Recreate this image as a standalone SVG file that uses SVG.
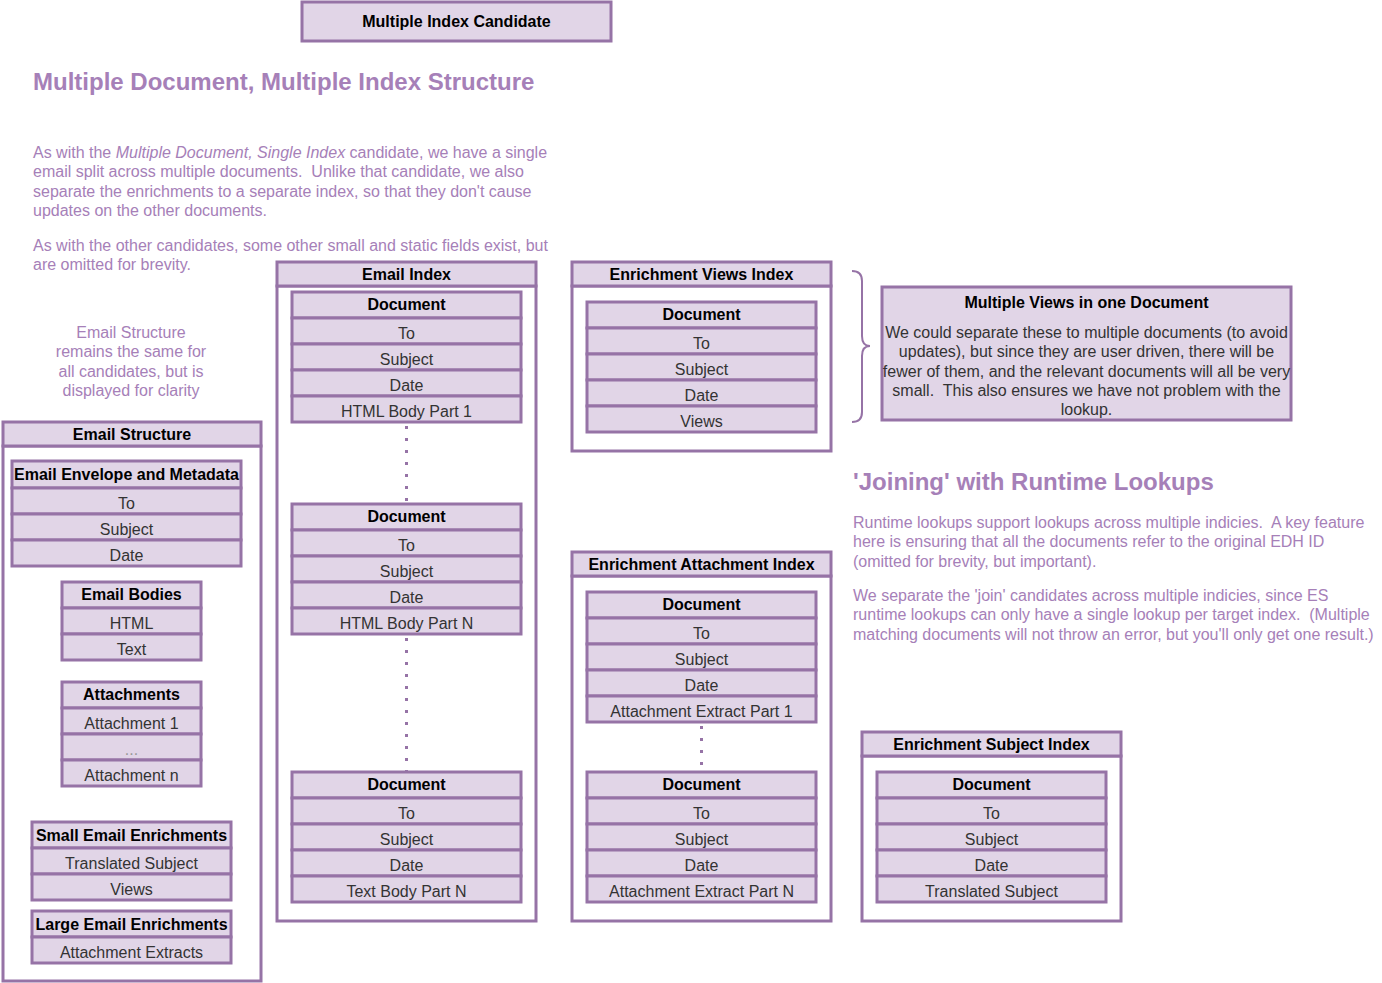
<svg xmlns="http://www.w3.org/2000/svg" width="1382" height="983" viewBox="0 0 1382 983">
<style>
text{font-family:"Liberation Sans",Arial,sans-serif;font-size:16px;white-space:pre}
.b{fill:#e1d5e7;stroke:#9673a6;stroke-width:3}
.w{fill:#ffffff;stroke:#9673a6;stroke-width:3}
.h{font-weight:bold;fill:#000;text-anchor:middle}
.r{fill:#333;text-anchor:middle}
.p{fill:#a680b8}
.t{fill:#a680b8;font-weight:bold;font-size:24px}
.dot{stroke:#9673a6;stroke-width:3;stroke-dasharray:3 9;fill:none}
</style>
<rect width="1382" height="983" fill="#fff"/>

<g id="title-box">
<rect class="b" x="302" y="2" width="309" height="39"/>
<text class="h" x="456.5" y="27">Multiple Index Candidate</text>
</g>

<g id="intro">
<text class="t" x="33" y="90">Multiple Document, Multiple Index Structure</text>
<text class="p" x="33" y="158">As with the <tspan font-style="italic">Multiple Document, Single Index</tspan> candidate, we have a single</text>
<text class="p" x="33" y="177.3" xml:space="preserve">email split across multiple documents.  Unlike that candidate, we also</text>
<text class="p" x="33" y="196.6">separate the enrichments to a separate index, so that they don't cause</text>
<text class="p" x="33" y="216">updates on the other documents.</text>
<text class="p" x="33" y="251">As with the other candidates, some other small and static fields exist, but</text>
<text class="p" x="33" y="270.3">are omitted for brevity.</text>
</g>

<g id="email-structure-note">
<text class="p" text-anchor="middle" x="131" y="338">Email Structure</text>
<text class="p" text-anchor="middle" x="131" y="357.3">remains the same for</text>
<text class="p" text-anchor="middle" x="131" y="376.6">all candidates, but is</text>
<text class="p" text-anchor="middle" x="131" y="396">displayed for clarity</text>
</g>

<g id="email-structure">
<rect class="w" x="3" y="446" width="258" height="535"/>
<rect class="b" x="3" y="422" width="258" height="24"/>
<text class="h" x="132" y="440">Email Structure</text>
<rect class="b" x="12" y="461" width="229" height="27"/>
<rect class="b" x="12" y="488" width="229" height="26"/>
<rect class="b" x="12" y="514" width="229" height="26"/>
<rect class="b" x="12" y="540" width="229" height="26"/>
<text class="h" x="126.5" y="480">Email Envelope and Metadata</text>
<text class="r" x="126.5" y="509">To</text>
<text class="r" x="126.5" y="535">Subject</text>
<text class="r" x="126.5" y="561">Date</text>

<rect class="b" x="62" y="582" width="139" height="26"/>
<rect class="b" x="62" y="608" width="139" height="26"/>
<rect class="b" x="62" y="634" width="139" height="26"/>
<text class="h" x="131.5" y="600">Email Bodies</text>
<text class="r" x="131.5" y="629">HTML</text>
<text class="r" x="131.5" y="655">Text</text>

<rect class="b" x="62" y="682" width="139" height="26"/>
<rect class="b" x="62" y="708" width="139" height="26"/>
<rect class="b" x="62" y="734" width="139" height="26"/>
<rect class="b" x="62" y="760" width="139" height="26"/>
<text class="h" x="131.5" y="700">Attachments</text>
<text class="r" x="131.5" y="729">Attachment 1</text>
<text class="r" x="131.5" y="755" style="fill:#999">...</text>
<text class="r" x="131.5" y="781">Attachment n</text>

<rect class="b" x="32" y="822" width="199" height="26"/>
<rect class="b" x="32" y="848" width="199" height="26"/>
<rect class="b" x="32" y="874" width="199" height="26"/>
<text class="h" x="131.5" y="841">Small Email Enrichments</text>
<text class="r" x="131.5" y="869">Translated Subject</text>
<text class="r" x="131.5" y="895">Views</text>

<rect class="b" x="32" y="911" width="199" height="26"/>
<rect class="b" x="32" y="937" width="199" height="26"/>
<text class="h" x="131.5" y="930">Large Email Enrichments</text>
<text class="r" x="131.5" y="958">Attachment Extracts</text>
</g>

<g id="email-index">
<rect class="w" x="277" y="286" width="259" height="635"/>
<rect class="b" x="277" y="262" width="259" height="24"/>
<text class="h" x="406.5" y="280">Email Index</text>
</g>

<g id="email-doc-1">
<rect class="b" x="292" y="292" width="229" height="26"/>
<rect class="b" x="292" y="318" width="229" height="26"/>
<rect class="b" x="292" y="344" width="229" height="26"/>
<rect class="b" x="292" y="370" width="229" height="26"/>
<rect class="b" x="292" y="396" width="229" height="26"/>
<text class="h" x="406.5" y="310">Document</text>
<text class="r" x="406.5" y="339">To</text>
<text class="r" x="406.5" y="365">Subject</text>
<text class="r" x="406.5" y="391">Date</text>
<text class="r" x="406.5" y="417">HTML Body Part 1</text>
</g>

<g id="email-doc-2">
<rect class="b" x="292" y="504" width="229" height="26"/>
<rect class="b" x="292" y="530" width="229" height="26"/>
<rect class="b" x="292" y="556" width="229" height="26"/>
<rect class="b" x="292" y="582" width="229" height="26"/>
<rect class="b" x="292" y="608" width="229" height="26"/>
<text class="h" x="406.5" y="522">Document</text>
<text class="r" x="406.5" y="551">To</text>
<text class="r" x="406.5" y="577">Subject</text>
<text class="r" x="406.5" y="603">Date</text>
<text class="r" x="406.5" y="629">HTML Body Part N</text>
</g>

<g id="email-doc-3">
<rect class="b" x="292" y="772" width="229" height="26"/>
<rect class="b" x="292" y="798" width="229" height="26"/>
<rect class="b" x="292" y="824" width="229" height="26"/>
<rect class="b" x="292" y="850" width="229" height="26"/>
<rect class="b" x="292" y="876" width="229" height="26"/>
<text class="h" x="406.5" y="790">Document</text>
<text class="r" x="406.5" y="819">To</text>
<text class="r" x="406.5" y="845">Subject</text>
<text class="r" x="406.5" y="871">Date</text>
<text class="r" x="406.5" y="897">Text Body Part N</text>
</g>

<g id="views-index">
<rect class="w" x="572" y="286" width="259" height="165"/>
<rect class="b" x="572" y="262" width="259" height="24"/>
<text class="h" x="701.5" y="280">Enrichment Views Index</text>
<rect class="b" x="587" y="302" width="229" height="26"/>
<rect class="b" x="587" y="328" width="229" height="26"/>
<rect class="b" x="587" y="354" width="229" height="26"/>
<rect class="b" x="587" y="380" width="229" height="26"/>
<rect class="b" x="587" y="406" width="229" height="26"/>
<text class="h" x="701.5" y="320">Document</text>
<text class="r" x="701.5" y="349">To</text>
<text class="r" x="701.5" y="375">Subject</text>
<text class="r" x="701.5" y="401">Date</text>
<text class="r" x="701.5" y="427">Views</text>
</g>

<g id="views-note">
<rect class="b" x="882" y="287" width="409" height="133"/>
<text class="h" x="1086.5" y="308">Multiple Views in one Document</text>
<text class="r" x="1086.5" y="338">We could separate these to multiple documents (to avoid</text>
<text class="r" x="1086.5" y="357.3">updates), but since they are user driven, there will be</text>
<text class="r" x="1086.5" y="376.6">fewer of them, and the relevant documents will all be very</text>
<text class="r" x="1086.5" y="396" xml:space="preserve">small.  This also ensures we have not problem with the</text>
<text class="r" x="1086.5" y="415.3">lookup.</text>
</g>

<g id="joining">
<text class="t" x="853" y="490">'Joining' with Runtime Lookups</text>
<text class="p" x="853" y="528" xml:space="preserve">Runtime lookups support lookups across multiple indicies.  A key feature</text>
<text class="p" x="853" y="547.3">here is ensuring that all the documents refer to the original EDH ID</text>
<text class="p" x="853" y="566.6">(omitted for brevity, but important).</text>
<text class="p" x="853" y="601">We separate the 'join' candidates across multiple indicies, since ES</text>
<text class="p" x="853" y="620.3" xml:space="preserve">runtime lookups can only have a single lookup per target index.  (Multiple</text>
<text class="p" x="853" y="639.6">matching documents will not throw an error, but you'll only get one result.)</text>
</g>

<g id="attachment-index">
<rect class="w" x="572" y="576" width="259" height="345"/>
<rect class="b" x="572" y="552" width="259" height="24"/>
<text class="h" x="701.5" y="570">Enrichment Attachment Index</text>
</g>

<g id="attachment-doc-1">
<rect class="b" x="587" y="592" width="229" height="26"/>
<rect class="b" x="587" y="618" width="229" height="26"/>
<rect class="b" x="587" y="644" width="229" height="26"/>
<rect class="b" x="587" y="670" width="229" height="26"/>
<rect class="b" x="587" y="696" width="229" height="26"/>
<text class="h" x="701.5" y="610">Document</text>
<text class="r" x="701.5" y="639">To</text>
<text class="r" x="701.5" y="665">Subject</text>
<text class="r" x="701.5" y="691">Date</text>
<text class="r" x="701.5" y="717">Attachment Extract Part 1</text>
</g>

<g id="attachment-doc-2">
<rect class="b" x="587" y="772" width="229" height="26"/>
<rect class="b" x="587" y="798" width="229" height="26"/>
<rect class="b" x="587" y="824" width="229" height="26"/>
<rect class="b" x="587" y="850" width="229" height="26"/>
<rect class="b" x="587" y="876" width="229" height="26"/>
<text class="h" x="701.5" y="790">Document</text>
<text class="r" x="701.5" y="819">To</text>
<text class="r" x="701.5" y="845">Subject</text>
<text class="r" x="701.5" y="871">Date</text>
<text class="r" x="701.5" y="897">Attachment Extract Part N</text>
</g>

<g id="subject-index">
<rect class="w" x="862" y="756" width="259" height="165"/>
<rect class="b" x="862" y="732" width="259" height="24"/>
<text class="h" x="991.5" y="750">Enrichment Subject Index</text>
<rect class="b" x="877" y="772" width="229" height="26"/>
<rect class="b" x="877" y="798" width="229" height="26"/>
<rect class="b" x="877" y="824" width="229" height="26"/>
<rect class="b" x="877" y="850" width="229" height="26"/>
<rect class="b" x="877" y="876" width="229" height="26"/>
<text class="h" x="991.5" y="790">Document</text>
<text class="r" x="991.5" y="819">To</text>
<text class="r" x="991.5" y="845">Subject</text>
<text class="r" x="991.5" y="871">Date</text>
<text class="r" x="991.5" y="897">Translated Subject</text>
</g>

<g id="connectors">
<line class="dot" x1="406.5" y1="426" x2="406.5" y2="503"/>
<line class="dot" x1="406.5" y1="638" x2="406.5" y2="771"/>
<line class="dot" x1="701.5" y1="726" x2="701.5" y2="771"/>
<path d="M852,271 Q862,271 862,281 L862,336 Q862,346 870,346 Q862,346 862,356 L862,412 Q862,422 852,422" fill="none" stroke="#9673a6" stroke-width="2"/>
</g>
</svg>
